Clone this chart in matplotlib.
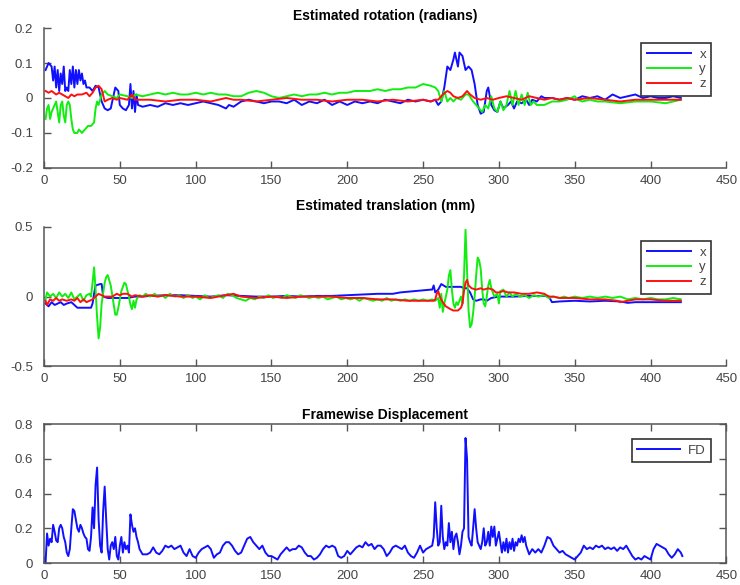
import numpy as np
import matplotlib
matplotlib.use("Agg")
import matplotlib.pyplot as plt

plt.rcParams['font.family'] = ['Liberation Sans', 'DejaVu Sans']

# ---- estimated rotation (radians), (frame, value) pairs
rot_x = [(1, .08), (3, .10), (5, .09), (6, .05), (7, .09), (8, .03), (9, .08), (10, .02), (11, .07),
         (12, .04), (13, .09), (14, .02), (15, .03), (16, .02), (17, .08), (18, .04), (19, .09),
         (20, .03), (21, .08), (22, .04), (23, .08), (24, .05), (25, .07), (26, .04), (27, .05),
         (28, .03), (30, .03), (32, .02), (34, .035), (36, .03), (38, -.01), (40, -.03), (42, -.035),
         (44, -.03), (46, .01), (47, .03), (49, .02), (50, -.02), (52, -.03), (54, -.035), (56, -.02),
         (57, .04), (58, -.03), (59, .02), (60, -.04), (61, .01), (62, -.02), (65, -.025), (70, -.02),
         (75, -.025), (80, -.015), (85, -.02), (90, -.015), (95, -.02), (100, -.015), (105, -.01),
         (110, -.015), (115, -.02), (120, -.03), (122, -.02), (125, -.025), (130, -.01), (135, -.005),
         (140, -.01), (145, -.015), (150, -.01), (155, -.01), (160, -.015), (165, -.005), (170, -.02),
         (175, -.01), (180, -.015), (185, -.005), (190, -.02), (195, -.01), (200, -.02), (205, -.01),
         (210, -.015), (215, -.01), (220, -.015), (225, -.005), (230, -.01), (235, -.015), (240, -.005),
         (245, -.01), (250, -.005), (255, -.01), (258, -.005), (260, -.02), (262, -.01), (264, .03),
         (266, .09), (268, .08), (270, .11), (271, .13), (273, .09), (274, .13), (276, .12),
         (278, .08), (280, .09), (282, .08), (284, .04), (286, -.02), (288, -.045), (290, -.04),
         (292, .02), (293, .03), (295, -.02), (297, -.035), (299, -.04), (301, -.01), (303, -.03),
         (306, -.02), (308, -.01), (310, -.03), (312, -.01), (315, -.015), (318, -.005), (320, -.02),
         (322, -.005), (325, -.01), (328, .005), (330, 0), (335, 0), (340, -.005), (345, 0),
         (350, -.005), (355, .005), (360, 0), (365, .005), (370, -.005), (375, .01), (380, 0),
         (385, .005), (390, .01), (395, 0), (400, .005), (405, 0), (410, 0), (415, .005), (420, 0)]

rot_y = [(1, -.06), (2, -.03), (3, -.02), (4, -.06), (5, -.04), (7, -.02), (8, -.01), (9, -.04),
         (10, -.07), (11, -.02), (12, -.01), (13, -.05), (14, -.07), (15, -.02), (16, -.01), (17, -.02),
         (18, -.06), (19, -.09), (20, -.10), (22, -.10), (23, -.09), (25, -.10), (27, -.09), (29, -.08),
         (31, -.08), (33, -.07), (34, -.03), (35, -.01), (36, -.02), (38, .01), (40, .02), (42, .01),
         (45, .005), (48, 0), (50, .01), (55, .005), (58, 0), (60, .01), (65, .005), (70, .01),
         (75, .015), (80, .01), (85, .015), (90, .01), (95, .01), (100, .015), (105, .01), (110, .015),
         (115, .01), (120, .01), (125, .005), (130, .005), (135, .015), (140, .02), (145, .015),
         (150, .005), (155, 0), (160, .005), (165, .01), (170, .005), (175, .01), (180, .01),
         (185, .015), (190, .01), (195, .015), (200, .015), (205, .02), (210, .02), (215, .02),
         (220, .025), (225, .02), (230, .025), (235, .025), (240, .03), (245, .03), (250, .04),
         (255, .035), (258, .03), (260, .02), (262, -.01), (264, .02), (266, -.01), (268, 0),
         (270, -.01), (272, 0), (275, -.005), (278, .01), (280, .01), (283, -.01), (285, -.02),
         (287, -.03), (289, -.04), (291, -.02), (293, -.03), (295, .005), (297, -.03), (299, -.04),
         (301, -.01), (303, -.035), (305, -.02), (307, .02), (309, -.02), (311, .02), (313, -.02),
         (315, .01), (317, -.02), (319, .015), (321, -.02), (323, -.01), (325, -.02), (330, -.02),
         (335, -.01), (340, -.01), (345, -.005), (350, .005), (352, -.005), (355, -.01), (360, -.005),
         (365, -.01), (370, -.01), (380, -.015), (390, -.01), (400, -.01), (410, -.015), (415, -.01),
         (420, -.005)]

rot_z = [(1, .02), (3, .015), (5, .02), (8, .01), (10, .015), (12, .01), (14, .005), (16, 0),
         (18, .01), (20, .005), (22, .01), (25, .01), (28, .015), (30, .005), (32, .015), (34, .03),
         (36, .035), (38, .025), (40, -.01), (42, -.005), (45, 0), (48, -.005), (50, 0), (55, -.005),
         (58, .01), (60, -.005), (65, -.005), (70, -.005), (80, -.01), (90, -.005), (100, -.005),
         (110, -.01), (120, 0), (125, -.005), (130, -.005), (140, -.01), (150, -.005), (160, 0),
         (170, -.005), (180, -.005), (190, -.01), (200, -.005), (210, -.005), (220, -.01),
         (230, -.005), (240, -.01), (250, -.005), (255, -.01), (258, -.005), (260, -.005), (263, .01),
         (266, .02), (268, .015), (270, .005), (273, 0), (276, .005), (279, .02), (281, .01), (284, 0),
         (288, -.005), (292, 0), (296, -.005), (300, 0), (305, .005), (310, 0), (315, -.005),
         (320, .005), (325, 0), (330, -.005), (335, 0), (340, -.005), (345, 0), (350, -.005),
         (360, 0), (370, -.005), (380, -.01), (390, -.005), (400, -.005), (410, -.005), (420, -.005)]

# ---- estimated translation (mm)
tra_x = [(1, -.05), (3, -.07), (5, -.04), (7, -.06), (9, -.05), (11, -.04), (13, -.06), (15, -.05),
         (18, -.04), (20, -.06), (22, -.08), (25, -.08), (28, -.08), (31, -.08), (32, -.05), (33, .02),
         (34, .08), (37, .09), (38, .09), (39, 0), (42, -.01), (45, -.01), (50, -.01), (55, -.01),
         (60, 0), (65, 0), (70, .005), (80, .01), (90, .01), (100, .005), (110, 0), (120, .01),
         (130, .005), (140, 0), (150, 0), (160, .005), (170, 0), (180, .005), (190, .005), (200, .01),
         (210, .015), (220, .02), (225, .02), (230, .02), (235, .03), (240, .035), (245, .04),
         (250, .045), (255, .05), (256, .05), (257, .08), (258, .03), (260, .05), (262, .09),
         (265, .07), (270, .07), (275, .07), (277, .06), (279, .06), (281, .03), (283, -.02),
         (285, -.03), (288, -.02), (290, -.02), (292, -.03), (295, -.01), (300, 0), (310, 0),
         (320, .005), (330, .005), (333, 0), (335, -.04), (340, -.035), (350, -.03), (360, -.035),
         (370, -.03), (380, -.035), (385, -.045), (390, -.04), (400, -.04), (410, -.04), (420, -.04)]

tra_y = [(1, -.02), (2, .03), (4, 0), (6, .02), (8, -.01), (10, .03), (12, 0), (14, .02), (16, -.01),
         (18, .03), (20, -.02), (22, 0), (24, .02), (26, -.03), (28, .01), (30, .02), (31, 0),
         (32, .1), (33, .21), (34, .05), (35, -.15), (36, -.3), (37, -.22), (38, -.05), (40, .1),
         (41, .14), (42, .155), (44, .08), (46, -.06), (47, -.13), (48, -.13), (49, -.08), (51, .04),
         (53, .1), (54, .09), (56, 0), (57, -.06), (58, -.09), (59, -.03), (60, -.08), (61, -.02),
         (63, .01), (65, 0), (67, .02), (70, 0), (73, .02), (75, 0), (78, .01), (80, -.01), (83, .02),
         (86, 0), (89, .01), (92, -.01), (95, .01), (98, -.01), (100, 0), (103, -.02), (106, .01),
         (109, -.01), (112, 0), (115, .01), (118, -.01), (121, .02), (124, .01), (127, -.01),
         (130, -.02), (133, -.03), (136, -.01), (139, -.02), (142, 0), (145, -.01), (148, .01),
         (151, -.01), (154, 0), (157, -.01), (160, .01), (163, 0), (166, -.01), (169, .01), (172, 0),
         (175, -.01), (178, 0), (181, -.01), (184, 0), (187, -.02), (190, -.01), (193, 0), (196, -.02),
         (199, -.01), (202, -.02), (205, -.01), (208, -.03), (211, -.01), (214, -.02), (217, -.03),
         (220, -.02), (223, -.03), (226, -.01), (229, -.03), (232, -.02), (235, -.03), (238, -.02),
         (241, -.03), (244, -.02), (247, -.03), (250, -.02), (253, -.03), (256, -.02), (258, -.03),
         (260, -.01), (261, -.08), (262, .02), (263, -.11), (264, -.05), (266, .05), (267, .15),
         (268, .19), (269, .05), (270, -.05), (271, -.08), (272, -.04), (273, -.06), (275, 0),
         (276, -.05), (277, .15), (278, .48), (279, .2), (280, -.1), (281, -.22), (282, -.2),
         (283, -.12), (284, 0), (285, .15), (286, .28), (287, .26), (288, .2), (289, .05), (290, -.05),
         (291, -.07), (292, 0), (293, .08), (294, .12), (295, .06), (297, 0), (299, .02), (300, -.05),
         (301, .04), (303, .05), (305, 0), (307, .03), (309, 0), (311, .02), (314, 0), (317, .01),
         (320, -.01), (323, .01), (326, 0), (330, .01), (333, -.01), (336, 0), (340, -.01), (343, 0),
         (346, -.01), (350, 0), (355, -.01), (360, 0), (365, -.01), (370, 0), (375, -.01), (380, 0),
         (385, -.02), (390, -.01), (395, -.02), (400, -.01), (405, -.02), (410, -.02), (415, -.01),
         (420, -.02)]

tra_z = [(1, -.03), (2, -.06), (4, -.02), (6, -.03), (8, -.01), (10, -.03), (12, -.02), (15, -.03),
         (18, -.02), (20, -.03), (22, -.01), (24, -.04), (26, -.02), (28, -.04), (30, -.03),
         (32, -.02), (34, 0), (36, .02), (38, .01), (40, 0), (42, 0), (45, 0), (48, .02), (50, .01),
         (52, .02), (55, .02), (58, 0), (60, .01), (65, 0), (70, .01), (75, 0), (80, .01), (90, 0),
         (100, 0), (110, -.01), (120, .01), (125, .02), (130, 0), (140, -.01), (150, 0), (160, -.01),
         (170, 0), (180, 0), (190, 0), (200, -.01), (210, -.01), (220, -.02), (230, -.02), (240, -.03),
         (250, -.03), (255, -.03), (257, -.03), (258, -.02), (259, .02), (260, .04), (261, 0),
         (263, -.04), (265, -.07), (268, -.09), (270, -.1), (273, -.1), (275, -.08), (276, -.05),
         (277, .04), (278, .1), (279, .12), (280, .08), (282, .06), (285, .05), (288, .06), (290, .05),
         (293, .06), (296, .05), (298, .03), (300, .03), (303, .04), (306, .03), (310, .03),
         (315, .02), (320, .02), (325, .03), (330, .02), (333, 0), (336, 0), (340, -.01), (350, -.01),
         (360, -.02), (370, -.02), (378, -.03), (380, -.04), (385, -.03), (390, -.02), (400, -.02),
         (410, -.03), (420, -.03)]

# ---- framewise displacement
fd = [(1, 0), (2, .17), (3, .1), (4, .14), (5, .12), (6, .22), (7, .18), (8, .13), (9, .12), (10, .2),
      (11, .22), (12, .2), (13, .15), (14, .12), (15, .06), (16, .04), (17, .08), (18, .2), (19, .31),
      (20, .3), (21, .25), (22, .2), (23, .18), (24, .22), (25, .2), (26, .17), (27, .15), (28, .14),
      (29, .08), (30, .07), (31, .15), (32, .32), (33, .2), (34, .45), (35, .55), (36, .25),
      (37, .1), (38, .06), (39, .3), (40, .44), (41, .25), (42, .08), (43, .02), (44, .1), (45, .12),
      (46, .08), (47, .15), (48, .04), (49, .02), (50, .1), (51, .15), (52, .06), (53, .12),
      (54, .08), (55, .1), (56, .06), (57, .28), (58, .22), (59, .18), (60, .2), (61, .15),
      (62, .12), (63, .08), (65, .05), (68, .05), (70, .06), (72, .09), (74, .06), (76, .05),
      (78, .07), (80, .1), (82, .09), (84, .1), (86, .08), (88, .09), (90, .1), (92, .06), (94, .04),
      (96, .08), (98, .04), (100, .03), (102, .06), (104, .08), (106, .09), (108, .1), (110, .08),
      (112, .03), (114, .05), (116, .06), (118, .1), (120, .12), (122, .12), (124, .1), (126, .07),
      (128, .05), (130, .06), (132, .1), (134, .14), (136, .15), (138, .12), (140, .1), (142, .08),
      (144, .1), (146, .06), (148, .04), (150, .04), (152, .03), (154, .02), (156, .05), (158, .07),
      (160, .09), (162, .07), (164, .08), (166, .08), (168, .1), (170, .09), (172, .06), (174, .04),
      (176, .04), (178, .02), (180, .03), (182, .05), (184, .08), (186, .1), (188, .09), (190, .1),
      (192, .09), (194, .04), (196, .03), (198, .04), (200, .07), (202, .05), (204, .07), (206, .09),
      (208, .1), (210, .09), (212, .12), (214, .1), (216, .11), (218, .08), (220, .1), (222, .1),
      (224, .08), (226, .04), (228, .06), (230, .09), (232, .1), (234, .09), (236, .08), (238, .1),
      (240, .06), (242, .04), (244, .03), (246, .06), (248, .1), (250, .06), (252, .08), (254, .09),
      (256, .1), (257, .15), (258, .35), (259, .2), (260, .1), (261, .12), (262, .33), (263, .15),
      (264, .08), (265, .12), (266, .1), (267, .23), (268, .12), (269, .18), (270, .08), (271, .15),
      (272, .17), (273, .12), (274, .05), (275, .1), (276, .18), (277, .2), (278, .72), (279, .6),
      (280, .15), (281, .12), (282, .1), (283, .2), (284, .31), (285, .2), (286, .12), (287, .1),
      (288, .08), (289, .12), (290, .2), (291, .1), (292, .12), (293, .18), (294, .1), (295, .21),
      (296, .15), (297, .21), (298, .1), (299, .14), (300, .18), (301, .12), (302, .06), (303, .12),
      (304, .07), (305, .14), (306, .06), (307, .12), (308, .08), (309, .14), (310, .07), (311, .12),
      (312, .1), (313, .14), (314, .12), (315, .16), (316, .12), (317, .15), (318, .1), (320, .05),
      (322, .08), (324, .06), (326, .08), (328, .06), (330, .1), (332, .15), (334, .14), (336, .1),
      (338, .08), (340, .06), (342, .07), (344, .05), (346, .04), (348, .03), (350, .02), (352, .04),
      (354, .06), (356, .1), (358, .08), (360, .09), (362, .08), (364, .1), (366, .09), (368, .1),
      (370, .08), (372, .09), (374, .08), (376, .09), (378, .07), (380, .09), (382, .08), (384, .1),
      (386, .07), (388, .04), (390, .02), (392, .03), (394, .02), (396, .04), (398, .03), (400, .02),
      (402, .08), (404, .11), (406, .1), (408, .09), (410, .08), (412, .05), (414, .03), (416, .05),
      (418, .08), (420, .06), (421, .04)]

xticks = [0, 50, 100, 150, 200, 250, 300, 350, 400, 450]
rot_ticks = [0.2, 0.1, 0, -0.1, -0.2]
rot_labels = ['0.2', '0.1', '0', '-0.1', '-0.2']
tra_ticks = [0.5, 0, -0.5]
tra_labels = ['0.5', '0', '-0.5']
fd_ticks = [0, 0.2, 0.4, 0.6, 0.8]
fd_labels = ['0', '0.2', '0.4', '0.6', '0.8']

BLUE, GREEN, RED = '#1010ff', '#10ee10', '#ff1010'
AX_COL = '#555555'
TXT_COL = '#444444'


def style_axes(ax, ylim, yticks, ylabels, box):
    ax.set_xlim(0, 450)
    ax.set_ylim(*ylim)
    ax.set_xticks(xticks)
    ax.set_xticklabels([str(t) for t in xticks])
    ax.set_yticks(yticks)
    ax.set_yticklabels(ylabels)
    ax.tick_params(direction='in', length=5, width=1, colors=AX_COL,
                   labelcolor=TXT_COL, labelsize=9.5, top=box, right=box)
    ax.tick_params(axis='x', pad=5)
    ax.tick_params(axis='y', pad=8)
    for s in ax.spines.values():
        s.set_color(AX_COL)
        s.set_linewidth(1.1)
    if not box:
        ax.spines['top'].set_visible(False)
        ax.spines['right'].set_visible(False)


def add_legend(ax, top, hlen):
    leg = ax.legend(loc='upper right', bbox_to_anchor=(0.978, top),
                    fontsize=9.5, handlelength=hlen, handletextpad=0.6,
                    borderpad=0.4, labelspacing=0.2, fancybox=False,
                    framealpha=1, borderaxespad=0)
    leg.get_frame().set_edgecolor('#333333')
    leg.get_frame().set_linewidth(1.2)
    for t in leg.get_texts():
        t.set_color(TXT_COL)


fig = plt.figure(figsize=(7.4, 5.85), dpi=100)
ax1 = fig.add_axes([0.0595, 0.713, 0.922, 0.239])
ax2 = fig.add_axes([0.0595, 0.374, 0.922, 0.238])
ax3 = fig.add_axes([0.0595, 0.0376, 0.922, 0.2374])

lw = 1.4
for ax, series in ((ax1, (rot_x, rot_y, rot_z)), (ax2, (tra_x, tra_y, tra_z))):
    for pts, col, lab in zip(series, (BLUE, GREEN, RED), ('x', 'y', 'z')):
        f, v = np.array(pts).T
        ax.plot(f, v, color=col, lw=lw, label=lab)

f, v = np.array(fd).T
ax3.plot(f, v, color=BLUE, lw=lw, label='FD')

style_axes(ax1, (-0.2, 0.2), rot_ticks, rot_labels, False)
style_axes(ax2, (-0.5, 0.5), tra_ticks, tra_labels, False)
style_axes(ax3, (0, 0.8), fd_ticks, fd_labels, True)

ax1.set_title('Estimated rotation (radians)', fontsize=10, fontweight='bold', pad=6)
ax2.set_title('Estimated translation (mm)', fontsize=10, fontweight='bold', pad=12)
ax3.set_title('Framewise Displacement', fontsize=10, fontweight='bold', pad=4)

add_legend(ax1, 0.893, 3.4)
add_legend(ax2, 0.899, 3.4)
add_legend(ax3, 0.892, 3.3)

fig.savefig('out.png', dpi=100)
